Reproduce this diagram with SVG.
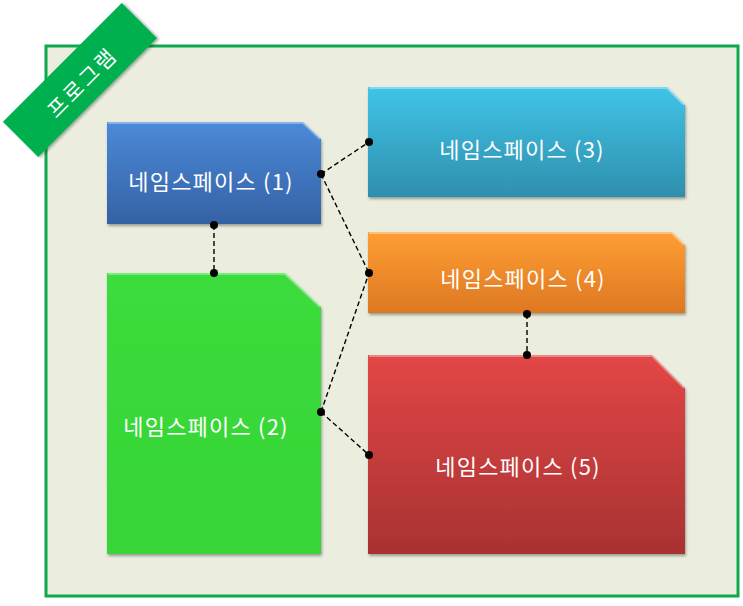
<svg xmlns="http://www.w3.org/2000/svg" width="743" height="606" viewBox="0 0 743 606">
<style>
.lbl{font-family:"Noto Sans CJK KR","Noto Sans",sans-serif;font-size:22px;letter-spacing:1.2px;fill:#ffffff;text-anchor:middle;dominant-baseline:central}
.con{stroke:#000;stroke-width:1.4;stroke-dasharray:5 3;fill:none}
.dot{fill:#000}
.hl{fill:none;stroke:#ffffff;stroke-opacity:0.35;stroke-width:2}
</style>
<defs>
<filter id="sh" x="-10%" y="-10%" width="125%" height="125%">
<feDropShadow dx="1" dy="2" stdDeviation="1.5" flood-color="#000" flood-opacity="0.35"/>
</filter>
<linearGradient id="gBlue" x1="0" y1="0" x2="0" y2="1"><stop offset="0" stop-color="#4b8ad9"/><stop offset="1" stop-color="#3561a4"/></linearGradient>
<linearGradient id="gCyan" x1="0" y1="0" x2="0" y2="1"><stop offset="0" stop-color="#40c4e6"/><stop offset="1" stop-color="#2f8fae"/></linearGradient>
<linearGradient id="gOrange" x1="0" y1="0" x2="0" y2="1"><stop offset="0" stop-color="#ff9e34"/><stop offset="1" stop-color="#dd7822"/></linearGradient>
<linearGradient id="gRed" x1="0" y1="0" x2="0" y2="1"><stop offset="0" stop-color="#e34646"/><stop offset="1" stop-color="#a83232"/></linearGradient>
<linearGradient id="gGreen" x1="0" y1="0" x2="0" y2="1"><stop offset="0" stop-color="#3cdc3c"/><stop offset="1" stop-color="#37d437"/></linearGradient>
</defs>
<rect width="743" height="606" fill="#ffffff"/>
<g id="container">
<rect x="46" y="46" width="692" height="550" fill="#ebeedf" stroke="#10a84c" stroke-width="3"/>
</g>
<g id="banner" transform="translate(80 80) rotate(-45)">
<rect x="-84" y="-25" width="168" height="50" fill="#00b050" filter="url(#sh)"/>
<text class="lbl" x="0" y="2" style="font-size:21px;letter-spacing:3px">프로그램</text>
</g>
<g id="connectors">
<line class="con" x1="214" y1="225" x2="214" y2="273"/>
<line class="con" x1="321" y1="174" x2="369" y2="142"/>
<line class="con" x1="321" y1="174" x2="369" y2="273"/>
<line class="con" x1="321" y1="412" x2="369" y2="273"/>
<line class="con" x1="321" y1="412" x2="369" y2="455"/>
<line class="con" x1="527" y1="314" x2="527" y2="355"/>
</g>
<g id="node1">
<polygon points="107,122 303,122 321,139 321,224 107,224" fill="url(#gBlue)" filter="url(#sh)"/>
<polyline class="hl" points="108,123 303,123 320,139"/>
<text class="lbl" x="211" y="180">네임스페이스 (1)</text>
</g>
<g id="node2">
<polygon points="107,273 285,273 321,307 321,554 107,554" fill="url(#gGreen)" filter="url(#sh)"/>
<polyline class="hl" points="108,274 285,274 320,307"/>
<text class="lbl" x="206" y="425">네임스페이스 (2)</text>
</g>
<g id="node3">
<polygon points="368,87 667,87 685,105 685,197 368,197" fill="url(#gCyan)" filter="url(#sh)"/>
<polyline class="hl" points="369,88 667,88 684,105"/>
<text class="lbl" x="522" y="148">네임스페이스 (3)</text>
</g>
<g id="node4">
<polygon points="368,232 672,232 685,245 685,313 368,313" fill="url(#gOrange)" filter="url(#sh)"/>
<polyline class="hl" points="369,233 672,233 684,245"/>
<text class="lbl" x="523" y="277">네임스페이스 (4)</text>
</g>
<g id="node5">
<polygon points="368,355 652,355 685,388 685,554 368,554" fill="url(#gRed)" filter="url(#sh)"/>
<polyline class="hl" points="369,356 652,356 684,388"/>
<text class="lbl" x="518" y="465">네임스페이스 (5)</text>
</g>
<g id="dots">
<circle class="dot" cx="214" cy="225" r="4"/>
<circle class="dot" cx="214" cy="273" r="4"/>
<circle class="dot" cx="321" cy="174" r="4"/>
<circle class="dot" cx="369" cy="142" r="4"/>
<circle class="dot" cx="369" cy="273" r="4"/>
<circle class="dot" cx="321" cy="412" r="4"/>
<circle class="dot" cx="369" cy="455" r="4"/>
<circle class="dot" cx="527" cy="314" r="4"/>
<circle class="dot" cx="527" cy="355" r="4"/>
</g>
</svg>
